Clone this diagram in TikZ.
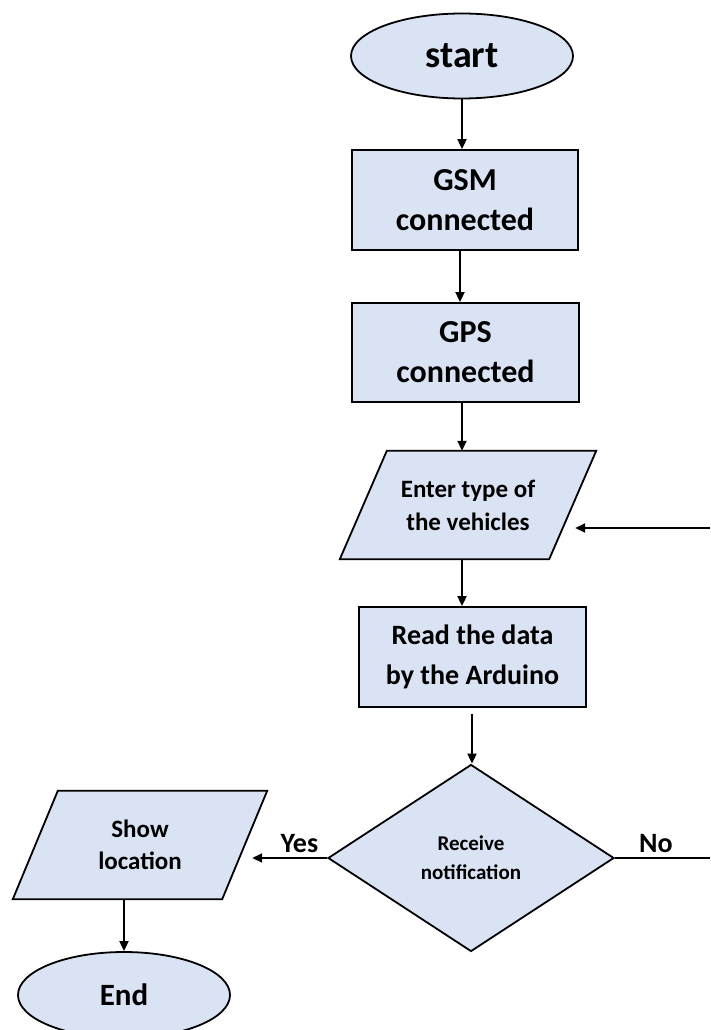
\documentclass[tikz,border=0pt]{standalone}
\usepackage{fontspec}
\setmainfont{Carlito}
\usetikzlibrary{shapes.geometric,arrows.meta,calc}
\pgfdeclarelayer{background}
\pgfsetlayers{background,main}
\definecolor{boxfill}{HTML}{DAE3F3}
\tikzset{
  base/.style={draw=black, line width=1.8pt, fill=boxfill, inner sep=0pt, align=center, font=\bfseries},
  term/.style={base, ellipse},
  proc/.style={base, rectangle},
  iobox/.style={rectangle, inner sep=0pt, align=center, font=\bfseries},
  iofill/.style={draw=black, line width=1.8pt, fill=boxfill, line join=miter},
  decide/.style={base, diamond},
  flow/.style={line width=1.8pt, -{Triangle[length=10pt,width=9pt]}},
  plain/.style={line width=1.8pt},
  lbl/.style={font=\bfseries\fontsize{28}{30}\selectfont}
}
\begin{document}
\begin{tikzpicture}[x=1pt,y=-1pt]
\useasboundingbox (0,0) rectangle (710,1030);

% terminals and process boxes
\node[term, minimum width=222pt, minimum height=85pt, font=\bfseries\fontsize{38}{40}\selectfont] (start) at (462,56) {start};
\node[proc, minimum width=226pt, minimum height=100pt, font=\bfseries\fontsize{32}{40}\selectfont] (gsm) at (465,200) {GSM\\connected};
\node[proc, minimum width=227pt, minimum height=99pt, font=\bfseries\fontsize{32}{40}\selectfont] (gps) at (465.5,352.5) {GPS\\connected};
\node[iobox, minimum width=256pt, minimum height=108pt, font=\bfseries\fontsize{25}{33}\selectfont] (enter) at (468,505) {Enter type of\\the vehicles};
\node[proc, minimum width=227pt, minimum height=100pt, font=\bfseries\fontsize{28}{40}\selectfont] (read) at (472.5,657) {Read the data\\by the Arduino};
\node[decide, minimum width=286pt, minimum height=187pt, font=\bfseries\fontsize{21}{29}\selectfont] (dec) at (471,858) {Receive\\notification};
\node[iobox, minimum width=254pt, minimum height=108pt, font=\bfseries\fontsize{25}{32}\selectfont] (show) at (140,845) {Show\\location};
\node[term, minimum width=212pt, minimum height=86pt, font=\bfseries\fontsize{31}{36}\selectfont] (end) at (124,995) {End};

% parallelogram outlines behind the input/output texts
\begin{pgfonlayer}{background}
\draw[iofill] ($(enter.north west)+(47,0)$) -- (enter.north east) -- ($(enter.south east)+(-47,0)$) -- (enter.south west) -- cycle;
\draw[iofill] ($(show.north west)+(45,0)$) -- (show.north east) -- ($(show.south east)+(-45,0)$) -- (show.south west) -- cycle;
\end{pgfonlayer}

% main flow
\draw[flow] (start.south) -- (start.south |- gsm.north);
\draw[flow] ([xshift=-5pt]gsm.south) -- ([xshift=-5pt]gsm.south |- gps.north);
\draw[flow] ([xshift=-3.5pt]gps.south) -- ([xshift=-3.5pt]gps.south |- enter.north);
\draw[flow] ([xshift=-6pt]enter.south) -- ([xshift=-6pt]enter.south |- read.north);
\draw[flow, shorten <=6pt] ([xshift=-0.5pt]read.south) -- ([xshift=-0.5pt]read.south |- dec.north);

% decision branches
\draw[flow] (dec.west) -- ([xshift=-15pt]dec.west -| show.east) node[lbl, pos=0.37, above=1pt] {Yes};
\coordinate (noend) at (710,858);
\draw[plain] (dec.east) -- (noend) node[lbl, pos=0.43, above=1pt] {No};
\coordinate (back) at (710,528);
\draw[flow] (back) -- ([xshift=-21pt]back -| enter.east);

% end
\draw[flow] (show.south -| end.north) -- (end.north);
\end{tikzpicture}
\end{document}
